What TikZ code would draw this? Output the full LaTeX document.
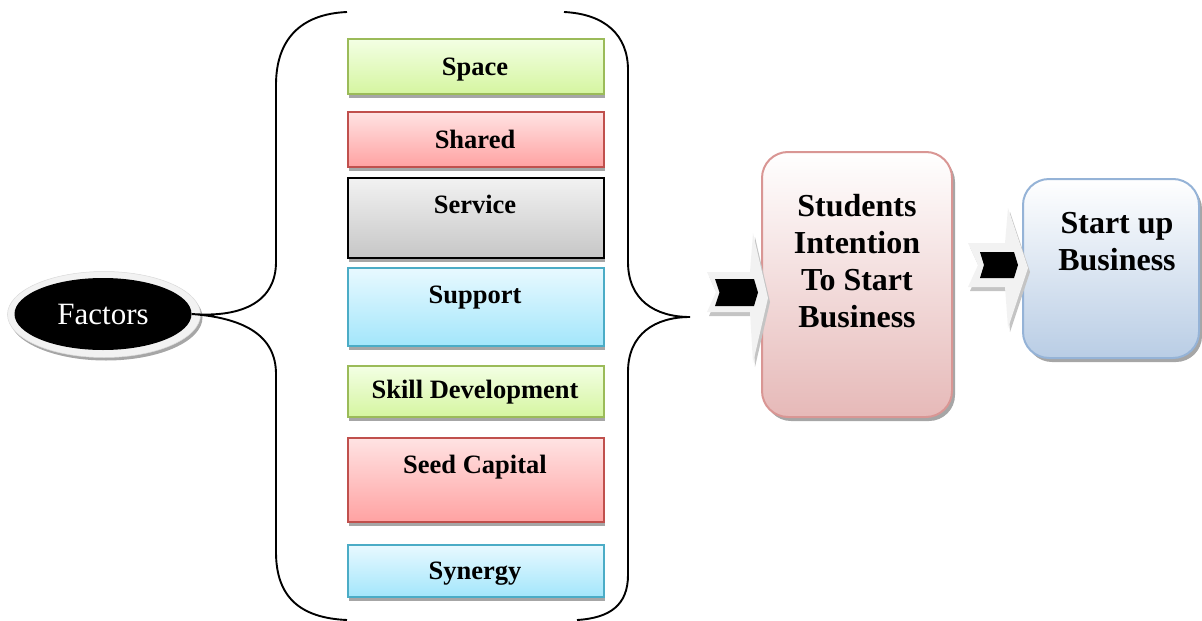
\documentclass[tikz,border=0pt]{standalone}
\usepackage{fontspec}
\setmainfont{Liberation Serif}
\usetikzlibrary{shapes.geometric,shadows}
\definecolor{grnB}{HTML}{9BBB59}
\definecolor{grnT}{HTML}{F3FFE4}
\definecolor{grnD}{HTML}{D5F5A0}
\definecolor{redB}{HTML}{C0504D}
\definecolor{redT}{HTML}{FFE3E3}
\definecolor{redD}{HTML}{FFA2A2}
\definecolor{gryT}{HTML}{F2F2F2}
\definecolor{gryD}{HTML}{C6C6C6}
\definecolor{cyaB}{HTML}{4BACC6}
\definecolor{cyaT}{HTML}{E8F9FF}
\definecolor{cyaD}{HTML}{A3E6FB}
\definecolor{pnkB}{HTML}{D99694}
\definecolor{pnkD}{HTML}{E6B9B8}
\definecolor{bluB}{HTML}{95B3D7}
\definecolor{bluD}{HTML}{B9CDE5}
\definecolor{shd}{HTML}{A6A6A6}
\definecolor{arrL}{HTML}{F2F2F2}
\definecolor{arrS}{HTML}{C4C4C4}
\newcommand\boxfont{\fontsize{26.5}{30}\selectfont\bfseries}
\newcommand\bigfont{\fontsize{32}{37}\selectfont\bfseries}
\begin{document}
\begin{tikzpicture}[x=1pt,y=-1pt,
  fbox/.style={rectangle,draw,line width=1.8pt,minimum width=256pt,anchor=north west,inner sep=0pt,
    drop shadow={shadow xshift=1pt,shadow yshift=-4pt,fill=shd,opacity=1}},
  greenbox/.style={fbox,draw=grnB,top color=grnT,bottom color=grnD},
  redbox/.style={fbox,draw=redB,top color=redT,bottom color=redD},
  greybox/.style={fbox,draw=black,line width=2.2pt,top color=gryT,bottom color=gryD},
  cyanbox/.style={fbox,draw=cyaB,top color=cyaT,bottom color=cyaD},
  lbl/.style={anchor=base,inner sep=0pt,font=\boxfont},
  brace/.style={draw=black,line width=1.9pt},
  bigbox/.style={rectangle,rounded corners=26pt,line width=2pt,inner sep=0pt,
    drop shadow={shadow xshift=3pt,shadow yshift=-4pt,fill=shd,opacity=1}}]
\useasboundingbox (0,0) rectangle (1202,621);
% Factors
\node[ellipse,minimum width=193pt,minimum height=86pt,fill=arrL,draw=gray!30,line width=0.5pt,
  drop shadow={shadow xshift=2pt,shadow yshift=-3pt,fill=shd,opacity=1}] (factorsrim) at (104,314.5) {};
\node[ellipse,minimum width=177pt,minimum height=72pt,fill=black,text=white,
  font=\fontsize{31}{34}\selectfont] (factors) at (103,314) {Factors};
% boxes
\node[greenbox,minimum height=55pt] (space) at (347,38) {};
\node[redbox,minimum height=55pt] (shared) at (347,111) {};
\node[greybox,minimum height=80pt] (service) at (347,177) {};
\node[cyanbox,minimum height=78pt] (support) at (347,267) {};
\node[greenbox,minimum height=51pt] (skill) at (347,365) {};
\node[redbox,minimum height=84pt] (seed) at (347,437) {};
\node[cyanbox,minimum height=52pt] (synergy) at (347,544) {};
\node[lbl] (spaceT) at (475,75) {Space};
\node[lbl] (sharedT) at (475,148) {Shared};
\node[lbl] (serviceT) at (475,213) {Service};
\node[lbl] (supportT) at (475,303) {Support};
\node[lbl] (skillT) at (475,398) {Skill Development};
\node[lbl] (seedT) at (475,473) {Seed Capital};
\node[lbl] (synergyT) at (475,579) {Synergy};
% braces
\coordinate (lpt) at (factors.east);
\coordinate (rpt) at (690,317);
\draw[brace] (347,12) .. controls (300,14) and (276,40) .. (276,85) -- (276,262)
  .. controls (276,300) and (245,318) .. (lpt)
  .. controls (245,318) and (276,336) .. (276,374) -- (276,552)
  .. controls (276,597) and (300,618) .. (347,620);
\draw[brace] (564,12) .. controls (605,14) and (628,35) .. (628,70) -- (628,262)
  .. controls (628,300) and (655,317) .. (rpt)
  .. controls (655,317) and (628,334) .. (628,372) -- (628,575)
  .. controls (628,605) and (610,618) .. (577,620);
% big boxes
\node[bigbox,draw=pnkB,top color=white,bottom color=pnkD,minimum width=190pt,minimum height=265pt] (students) at (857,284.5) {};
\node[align=center,font=\bigfont,inner sep=0pt] (studentsT) at (857,261) {Students\\Intention\\To Start\\Business};
\node[bigbox,draw=bluB,top color=white,bottom color=bluD,minimum width=176pt,minimum height=179pt] (startup) at (1111,268.5) {};
\node[align=center,font=\bigfont,inner sep=0pt] (startupT) at (1117,242) {Start up\\Business};
% arrow 1
\fill[arrS] (709,276) -- (752,276) -- (755,237) -- (770,302) -- (755,367) -- (752,316) -- (709,316) -- (718,296) -- cycle;
\fill[arrL] (707,272) -- (750,272) -- (753,233) -- (768,298) -- (753,363) -- (750,312) -- (707,312) -- (716,292) -- cycle;
\fill[black] (715,279) -- (754,279) -- (758,292.5) -- (754,306) -- (715,306) -- (719.5,292.5) -- cycle;
% arrow 2
\fill[arrS] (970,247) -- (1007,247) -- (1010,212) -- (1030,272) -- (1010,332) -- (1007,291) -- (970,291) -- (980,269) -- cycle;
\fill[arrL] (968,243) -- (1005,243) -- (1008,208) -- (1028,268) -- (1008,328) -- (1005,287) -- (968,287) -- (978,265) -- cycle;
\fill[black] (980,252) -- (1014,252) -- (1018,265) -- (1014,278) -- (980,278) -- (984,265) -- cycle;
\end{tikzpicture}
\end{document}
